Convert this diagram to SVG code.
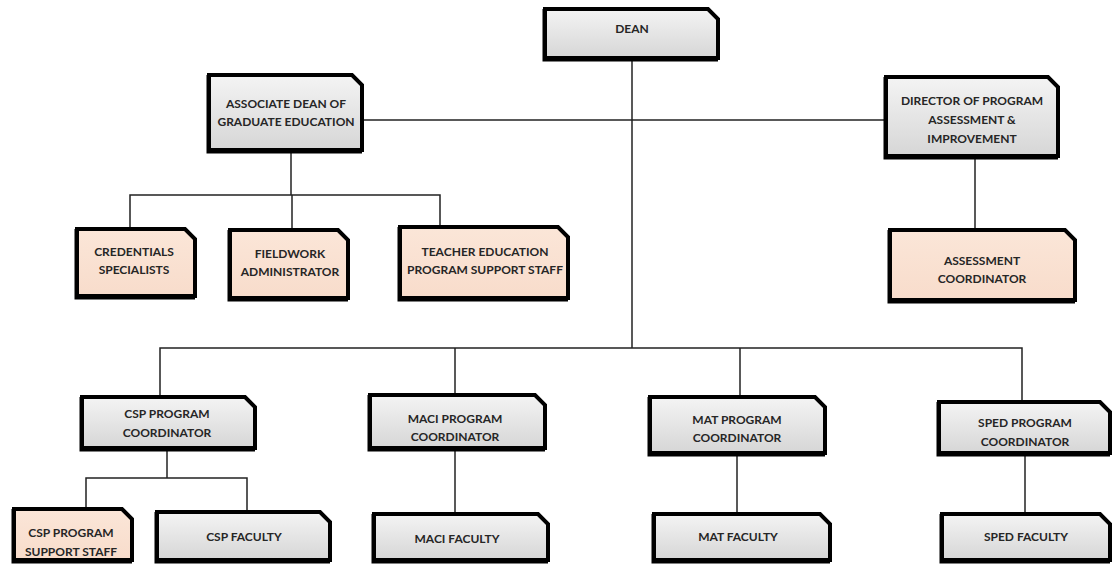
<svg xmlns="http://www.w3.org/2000/svg" width="1115" height="566" viewBox="0 0 1115 566">
<defs>
<linearGradient id="gray" x1="0" y1="0" x2="0" y2="1">
<stop offset="0" stop-color="#f4f4f4"/>
<stop offset="1" stop-color="#d6d6d6"/>
</linearGradient>
<linearGradient id="peach" x1="0" y1="0" x2="0" y2="1">
<stop offset="0" stop-color="#fbe6d8"/>
<stop offset="1" stop-color="#f8dccb"/>
</linearGradient>
</defs>
<style>
.g{fill:url(#gray);stroke:#000;stroke-width:4;stroke-linejoin:miter}
.p{fill:url(#peach);stroke:#000;stroke-width:4;stroke-linejoin:miter}
.sh{fill:none;stroke:#000;stroke-width:3}
.t{font-family:Lato,"Liberation Sans",sans-serif;font-weight:700;font-size:12px;fill:#262626;text-anchor:middle}
.c{fill:none;stroke:#222;stroke-width:1.5}
</style>
<rect width="1115" height="566" fill="#fff"/>
<g id="connectors">
<path class="c" d="M632 60V348"/>
<path class="c" d="M362 120H884"/>
<path class="c" d="M291 152V195"/>
<path class="c" d="M130 228V195H440V225"/>
<path class="c" d="M292 195V228"/>
<path class="c" d="M975 158V228"/>
<path class="c" d="M160 395V348H1022V400"/>
<path class="c" d="M455 348V393"/>
<path class="c" d="M740 348V395"/>
<path class="c" d="M167 450V478"/>
<path class="c" d="M86 507V478H247V510"/>
<path class="c" d="M455 450V512"/>
<path class="c" d="M737 455V512"/>
<path class="c" d="M1025 455V512"/>
</g>
<g id="dean">
<path class="g" d="M545 9H708L718 19V58H545Z"/>
<path class="sh" d="M544 9V60H718"/>
<text class="t" x="632" y="33">DEAN</text>
</g>
<g id="assoc-dean">
<path class="g" d="M209 75H352L362 85V150H209Z"/>
<path class="sh" d="M208 75V152H362"/>
<text class="t" x="286" y="108">ASSOCIATE DEAN OF</text>
<text class="t" x="286" y="126">GRADUATE EDUCATION</text>
</g>
<g id="director">
<path class="g" d="M886 77H1048L1058 87V156H886Z"/>
<path class="sh" d="M885 77V158H1058"/>
<text class="t" x="972" y="105">DIRECTOR OF PROGRAM</text>
<text class="t" x="972" y="124">ASSESSMENT &amp;</text>
<text class="t" x="972" y="143">IMPROVEMENT</text>
</g>
<g id="credentials">
<path class="p" d="M77 229H185L195 239V296H77Z"/>
<path class="sh" d="M76 229V298H195"/>
<text class="t" x="134" y="256">CREDENTIALS</text>
<text class="t" x="134" y="274">SPECIALISTS</text>
</g>
<g id="fieldwork">
<path class="p" d="M230 230H338L348 240V298H230Z"/>
<path class="sh" d="M229 230V300H348"/>
<text class="t" x="290" y="258">FIELDWORK</text>
<text class="t" x="290" y="276">ADMINISTRATOR</text>
</g>
<g id="teacher-ed">
<path class="p" d="M400 227H558L568 237V298H400Z"/>
<path class="sh" d="M399 227V300H568"/>
<text class="t" x="485" y="256">TEACHER EDUCATION</text>
<text class="t" x="485" y="274">PROGRAM SUPPORT STAFF</text>
</g>
<g id="assessment-coord">
<path class="p" d="M890 230H1065L1075 240V300H890Z"/>
<path class="sh" d="M889 230V302H1075"/>
<text class="t" x="982" y="265">ASSESSMENT</text>
<text class="t" x="982" y="283">COORDINATOR</text>
</g>
<g id="csp-coord">
<path class="g" d="M82 397H245L255 407V448H82Z"/>
<path class="sh" d="M81 397V450H255"/>
<text class="t" x="167" y="418">CSP PROGRAM</text>
<text class="t" x="167" y="437">COORDINATOR</text>
</g>
<g id="maci-coord">
<path class="g" d="M370 395H535L545 405V448H370Z"/>
<path class="sh" d="M369 395V450H545"/>
<text class="t" x="455" y="423">MACI PROGRAM</text>
<text class="t" x="455" y="441">COORDINATOR</text>
</g>
<g id="mat-coord">
<path class="g" d="M650 397H815L825 407V453H650Z"/>
<path class="sh" d="M649 397V455H825"/>
<text class="t" x="737" y="424">MAT PROGRAM</text>
<text class="t" x="737" y="442">COORDINATOR</text>
</g>
<g id="sped-coord">
<path class="g" d="M939 402H1100L1110 412V453H939Z"/>
<path class="sh" d="M938 402V455H1110"/>
<text class="t" x="1025" y="427">SPED PROGRAM</text>
<text class="t" x="1025" y="446">COORDINATOR</text>
</g>
<g id="csp-support">
<path class="p" d="M14 509H122L132 519V560H14Z"/>
<path class="sh" d="M13 509V562H132"/>
<text class="t" x="71" y="537">CSP PROGRAM</text>
<text class="t" x="71" y="556">SUPPORT STAFF</text>
</g>
<g id="csp-faculty">
<path class="g" d="M157 512H320L330 522V560H157Z"/>
<path class="sh" d="M156 512V562H330"/>
<text class="t" x="244" y="541">CSP FACULTY</text>
</g>
<g id="maci-faculty">
<path class="g" d="M374 514H538L548 524V560H374Z"/>
<path class="sh" d="M373 514V562H548"/>
<text class="t" x="457" y="543">MACI FACULTY</text>
</g>
<g id="mat-faculty">
<path class="g" d="M654 514H820L830 524V560H654Z"/>
<path class="sh" d="M653 514V562H830"/>
<text class="t" x="738" y="541">MAT FACULTY</text>
</g>
<g id="sped-faculty">
<path class="g" d="M942 514H1100L1110 524V560H942Z"/>
<path class="sh" d="M941 514V562H1110"/>
<text class="t" x="1026" y="541">SPED FACULTY</text>
</g>
</svg>
